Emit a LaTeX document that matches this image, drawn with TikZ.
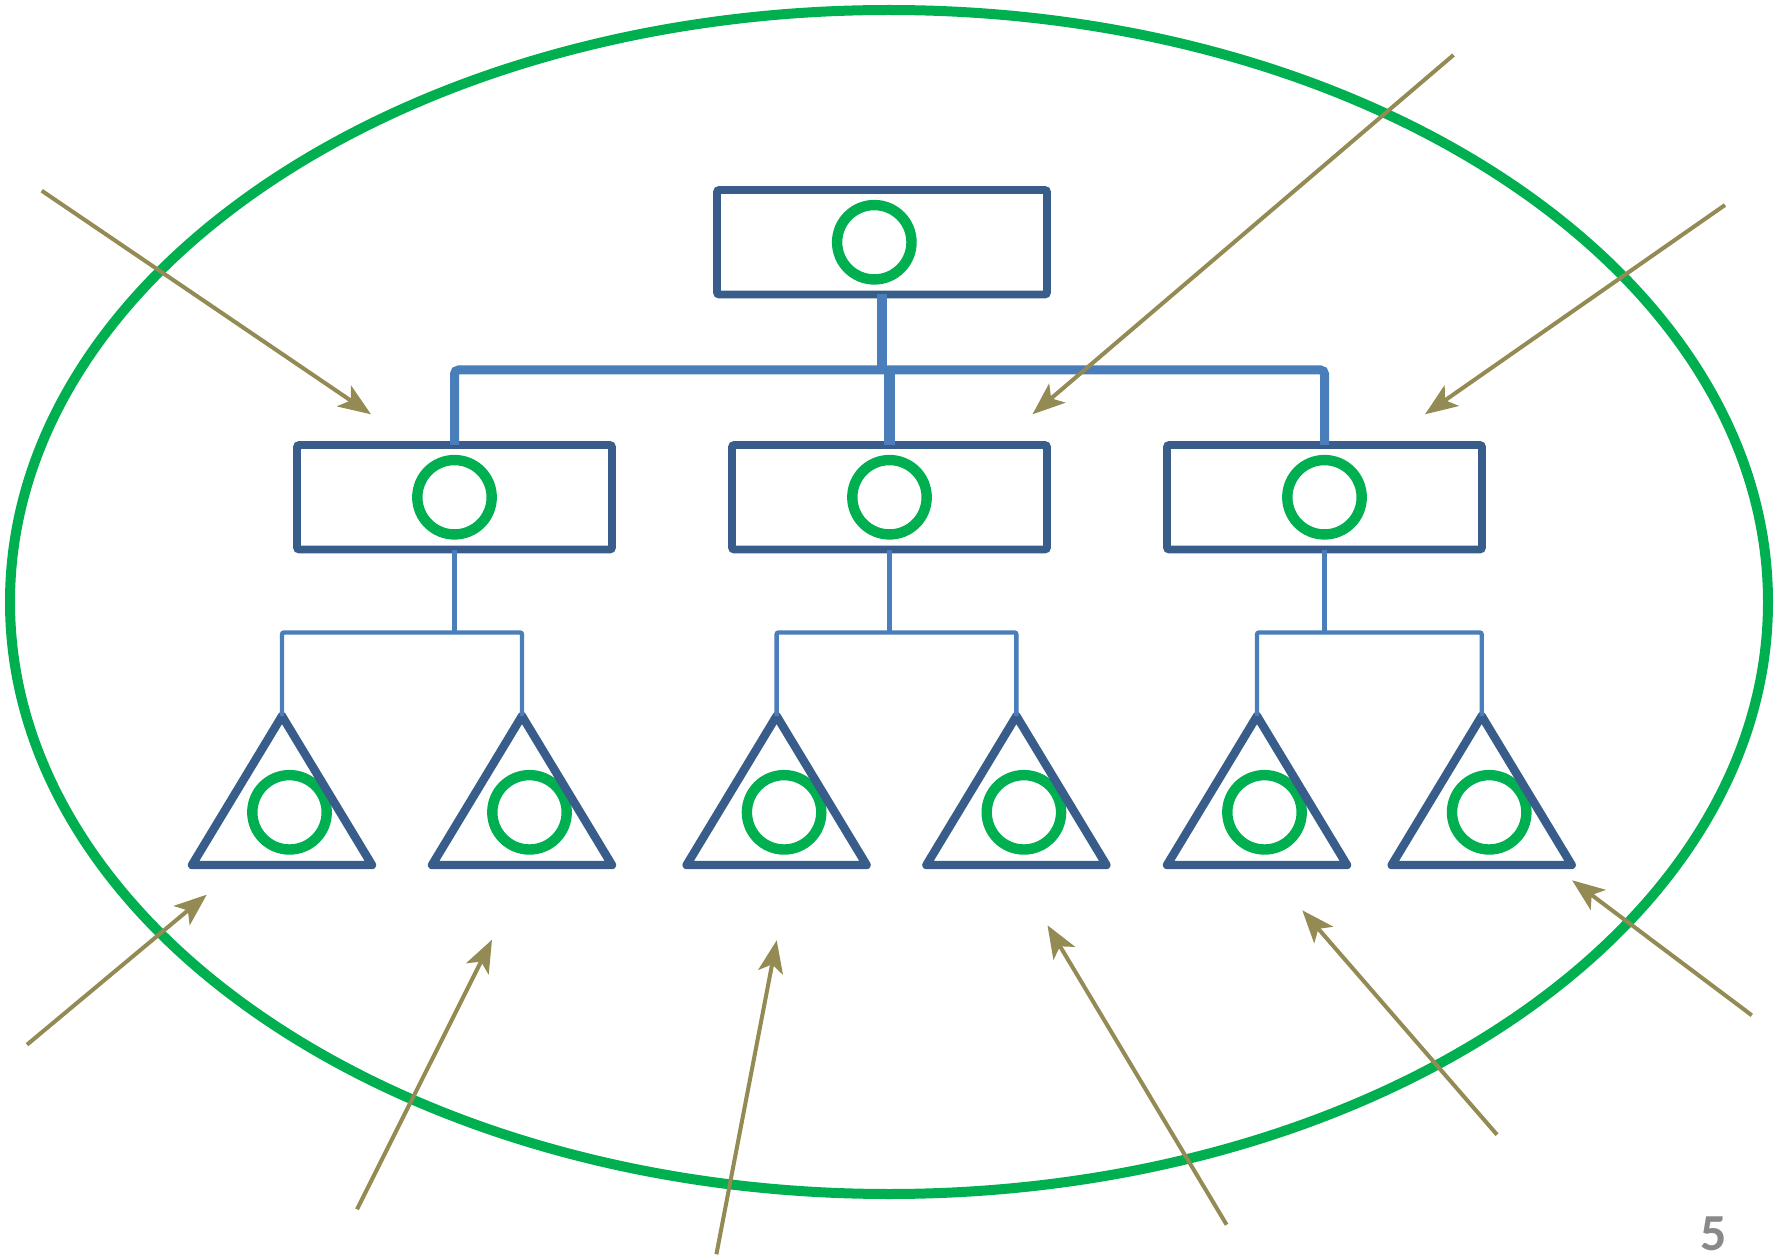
\documentclass[tikz,border=0pt]{standalone}
\usepackage{fontspec}
\newfontfamily\slidefont{Carlito}
\usetikzlibrary{arrows.meta}
\definecolor{ringgreen}{HTML}{00B050}
\definecolor{boxblue}{HTML}{385D8A}
\definecolor{linkblue}{HTML}{4A7EBB}
\definecolor{rayolive}{HTML}{948A54}
\definecolor{numgrey}{HTML}{898989}
\begin{document}
\begin{tikzpicture}[x=0.5pt,y=-0.5pt,
  box/.style={draw=boxblue, line width=3.8pt, minimum height=52.25pt, inner sep=0pt, outer sep=0pt, rounded corners=1pt},
  ring/.style={circle, draw=ringgreen, line width=5.2pt, minimum size=37.2pt, inner sep=0pt, outer sep=0pt},
  tri/.style={draw=boxblue, line width=4.2pt, line join=round},
  bus/.style={draw=linkblue, line width=4.5pt, rounded corners=2pt},
  stem/.style={draw=linkblue, line width=5.2pt},
  sub/.style={draw=linkblue, line width=2.2pt, rounded corners=1pt},
  ray/.style={draw=rayolive, line width=2pt, -{Stealth[length=16.25pt,width=12.5pt,inset=4pt]}}
]
\useasboundingbox (0,0) rectangle (1785,1257);
% outer ring
\draw[ringgreen, line width=5pt] (889,602) ellipse [x radius=879, y radius=592];
% reference coordinates for the buses
\coordinate (busY) at (0,370);
\coordinate (subY) at (0,632.5);
% boxes
\node[box, minimum width=165pt] (top) at (882,242.25) {};
\node[ring] (ringtop) at (874.3,242.25) {};
\node[box, minimum width=157.5pt] (m1) at (454.5,497.25) {};
\node[box, minimum width=157.5pt] (m2) at (889.5,497.25) {};
\node[box, minimum width=157.5pt] (m3) at (1324.5,497.25) {};
\node[ring] (ringm1) at (m1) {};
\node[ring] (ringm2) at (m2) {};
\node[ring] (ringm3) at (m3) {};
% triangles with rings
\foreach \i/\x in {1/282,2/522,3/776.6,4/1016.4,5/1257,6/1481.7}{
  \coordinate (t\i) at (\x,716);
  \node[ring] (r\i) at (\x+7.5,812.3) {};
  \draw[tri] (t\i) -- ++(-90,149) -- ++(180,0) -- cycle;
}
% upper connectors
\draw[bus] (m1.north) -- (m1.north |- busY) -| (m3.north);
\draw[stem] (top.south) -- (top.south |- busY);
\draw[stem] (m2.north) -- (m2.north |- busY);
% lower connectors
\draw[sub] (m1.south) -- (m1.south |- subY);
\draw[sub] (m2.south) -- (m2.south |- subY);
\draw[sub] (m3.south) -- (m3.south |- subY);
\draw[sub] (t1) -- (t1 |- subY) -- (t2 |- subY) -- (t2);
\draw[sub] (t3) -- (t3 |- subY) -- (t4 |- subY) -- (t4);
\draw[sub] (t5) -- (t5 |- subY) -- (t6 |- subY) -- (t6);
% arrows
\coordinate (a1s) at (41.7,190.7);   \coordinate (a1e) at (371,414.3);
\coordinate (a2s) at (1453.5,55);    \coordinate (a2e) at (1032.5,414.3);
\coordinate (a3s) at (1725,205);     \coordinate (a3e) at (1425,414.3);
\coordinate (a4s) at (27,1044.7);    \coordinate (a4e) at (206.7,894.7);
\coordinate (a5s) at (357,1209.3);   \coordinate (a5e) at (492,939.7);
\coordinate (a6s) at (716.4,1254.3); \coordinate (a6e) at (776.7,940.3);
\coordinate (a7s) at (1226.6,1224.7);\coordinate (a7e) at (1047.5,925.3);
\coordinate (a8s) at (1497,1134.7);  \coordinate (a8e) at (1302.3,910.3);
\coordinate (a9s) at (1751.8,1015.3);\coordinate (a9e) at (1572.1,880.3);
\foreach \k in {1,...,9}{\draw[ray] (a\k s) -- (a\k e);}
% slide number
\node[font=\slidefont\bfseries\fontsize{26pt}{30pt}\selectfont, text=numgrey, anchor=base, inner sep=0pt] (pg) at (1714,1250) {5};
\end{tikzpicture}
\end{document}
